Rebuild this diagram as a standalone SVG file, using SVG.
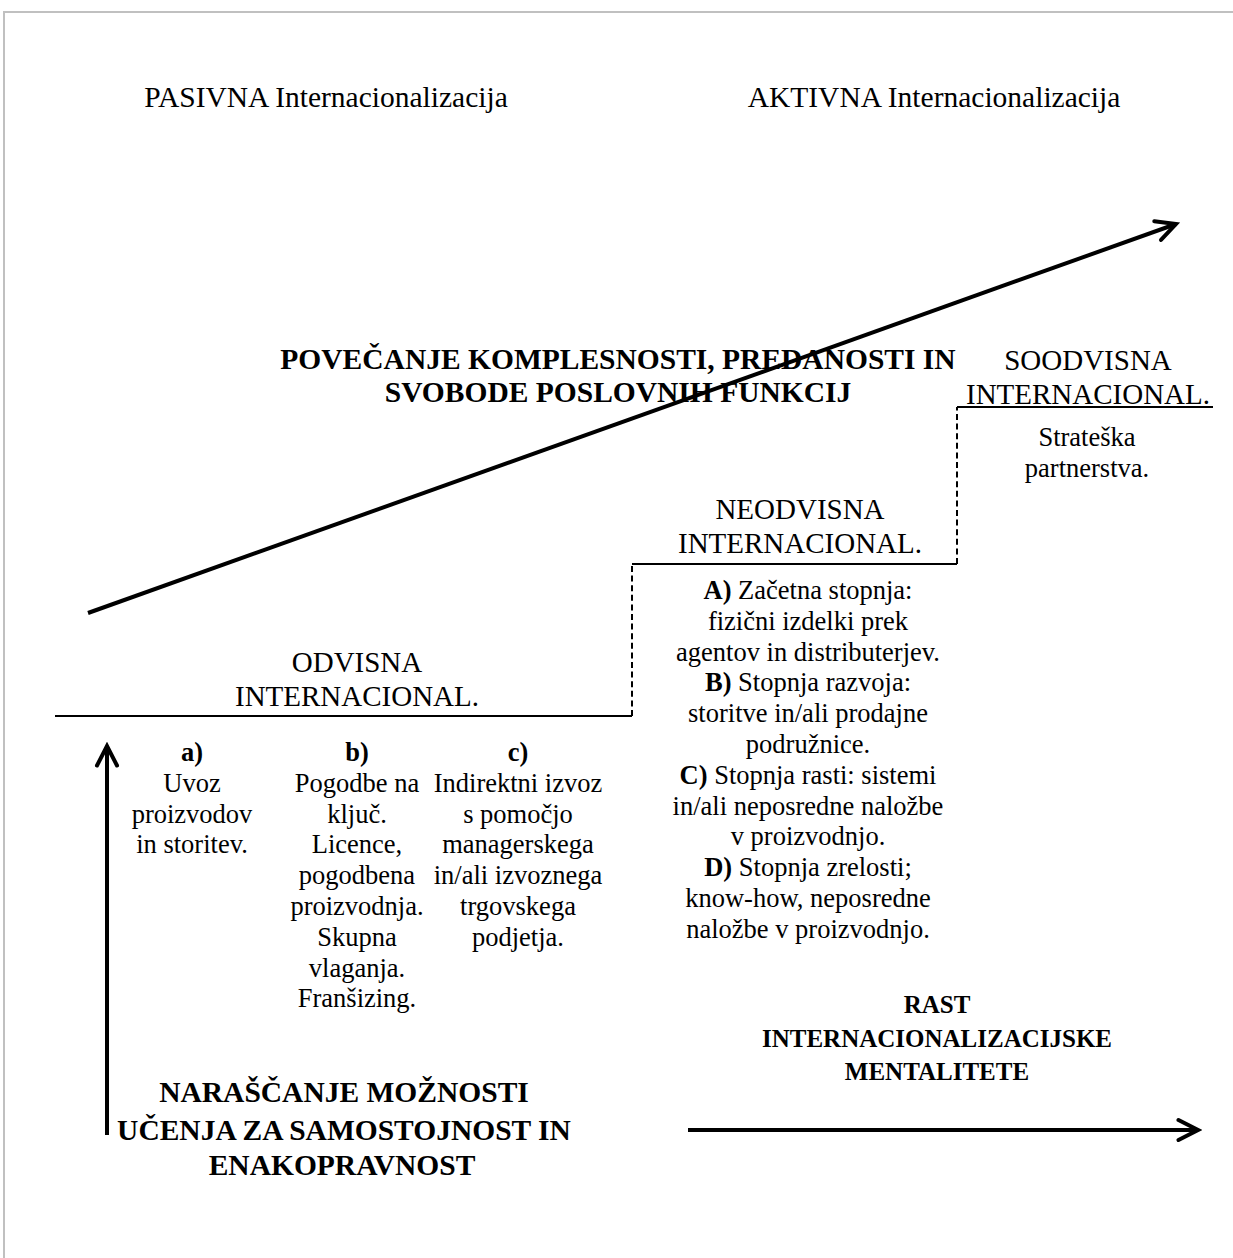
<svg xmlns="http://www.w3.org/2000/svg" width="1233" height="1258" viewBox="0 0 1233 1258">
  <style>
    text { font-family: "Liberation Serif", "Times New Roman", serif; fill: #000; text-anchor: middle; }
    .hdr { font-size: 29.5px; }
    .lbl { font-size: 29px; }
    .body { font-size: 26.5px; }
    .big { font-size: 29.5px; font-weight: bold; }
    .mid { font-size: 25px; font-weight: bold; }
    .b { font-weight: bold; }
    .step { fill: none; stroke: #000; stroke-width: 2; }
    .riser { fill: none; stroke: #000; stroke-width: 2; stroke-dasharray: 6 3.6; }
    .arrow { fill: none; stroke: #000; stroke-width: 4; marker-end: url(#chev); }
  </style>
  <defs>
    <marker id="chev" markerUnits="userSpaceOnUse" viewBox="-24 -14 28 28" markerWidth="28" markerHeight="28" refX="0" refY="0" orient="auto">
      <path d="M -19.5 -10 L 0 0 L -19.5 10" fill="none" stroke="#000" stroke-width="4" stroke-linecap="round" stroke-linejoin="miter"/>
    </marker>
  </defs>

  <rect width="1233" height="1258" fill="#fff"/>
  <!-- frame -->
  <path d="M 4 1258 V 12 H 1233" fill="none" stroke="#c0c0c0" stroke-width="2"/>

  <!-- headings -->
  <text class="hdr" x="326" y="107">PASIVNA Internacionalizacija</text>
  <text class="hdr" x="934" y="107">AKTIVNA Internacionalizacija</text>

  <!-- connectors: staircase and trend arrows -->
  <g id="connectors">
    <path class="step" d="M 55 716 H 632"/>
    <path class="riser" d="M 632 716 V 564"/>
    <path class="step" d="M 632 564 H 957"/>
    <path class="riser" d="M 957 564 V 407"/>
    <path class="step" d="M 957 407 H 1213"/>
    <path class="arrow" d="M 88 613 L 1176 224"/>
    <path class="arrow" d="M 107 1135 V 746"/>
    <path class="arrow" d="M 688 1130 H 1198"/>
  </g>

  <g id="trend-complexity">
    <text class="big" x="618" y="369">POVEČANJE KOMPLESNOSTI, PREDANOSTI IN</text>
    <text class="big" x="618" y="402">SVOBODE POSLOVNIH FUNKCIJ</text>
  </g>

  <g id="odvisna">
    <text class="lbl" x="357" y="672">ODVISNA</text>
    <text class="lbl" x="357" y="706">INTERNACIONAL.</text>
  </g>

  <g id="neodvisna">
    <text class="lbl" x="800" y="519">NEODVISNA</text>
    <text class="lbl" x="800" y="553">INTERNACIONAL.</text>
  </g>

  <g id="soodvisna">
    <text class="lbl" x="1088" y="370">SOODVISNA</text>
    <text class="lbl" x="1088" y="404">INTERNACIONAL.</text>
    <text class="body" x="1087" y="446">Strateška</text>
    <text class="body" x="1087" y="477">partnerstva.</text>
  </g>

  <g id="neodvisna-stages">
    <text class="body" x="808" y="599"><tspan class="b">A)</tspan> Začetna stopnja:</text>
    <text class="body" x="808" y="630">fizični izdelki prek</text>
    <text class="body" x="808" y="661">agentov in distributerjev.</text>
    <text class="body" x="808" y="691"><tspan class="b">B)</tspan> Stopnja razvoja:</text>
    <text class="body" x="808" y="722">storitve in/ali prodajne</text>
    <text class="body" x="808" y="753">podružnice.</text>
    <text class="body" x="808" y="784"><tspan class="b">C)</tspan> Stopnja rasti: sistemi</text>
    <text class="body" x="808" y="815">in/ali neposredne naložbe</text>
    <text class="body" x="808" y="845">v proizvodnjo.</text>
    <text class="body" x="808" y="876"><tspan class="b">D)</tspan> Stopnja zrelosti;</text>
    <text class="body" x="808" y="907">know-how, neposredne</text>
    <text class="body" x="808" y="938">naložbe v proizvodnjo.</text>
  </g>

  <g id="col-a">
    <text class="body b" x="192" y="761">a)</text>
    <text class="body" x="192" y="792">Uvoz</text>
    <text class="body" x="192" y="823">proizvodov</text>
    <text class="body" x="192" y="853">in storitev.</text>
  </g>

  <g id="col-b">
    <text class="body b" x="357" y="761">b)</text>
    <text class="body" x="357" y="792">Pogodbe na</text>
    <text class="body" x="357" y="823">ključ.</text>
    <text class="body" x="357" y="853">Licence,</text>
    <text class="body" x="357" y="884">pogodbena</text>
    <text class="body" x="357" y="915">proizvodnja.</text>
    <text class="body" x="357" y="946">Skupna</text>
    <text class="body" x="357" y="977">vlaganja.</text>
    <text class="body" x="357" y="1007">Franšizing.</text>
  </g>

  <g id="col-c">
    <text class="body b" x="518" y="761">c)</text>
    <text class="body" x="518" y="792">Indirektni izvoz</text>
    <text class="body" x="518" y="823">s pomočjo</text>
    <text class="body" x="518" y="853">managerskega</text>
    <text class="body" x="518" y="884">in/ali izvoznega</text>
    <text class="body" x="518" y="915">trgovskega</text>
    <text class="body" x="518" y="946">podjetja.</text>
  </g>

  <g id="trend-learning">
    <text class="big" x="344" y="1102">NARAŠČANJE MOŽNOSTI</text>
    <text class="big" x="344" y="1140">UČENJA ZA SAMOSTOJNOST IN</text>
    <text class="big" x="342" y="1175">ENAKOPRAVNOST</text>
  </g>

  <g id="trend-mentality">
    <text class="mid" x="937" y="1013">RAST</text>
    <text class="mid" x="937" y="1047">INTERNACIONALIZACIJSKE</text>
    <text class="mid" x="937" y="1080">MENTALITETE</text>
  </g>
</svg>
